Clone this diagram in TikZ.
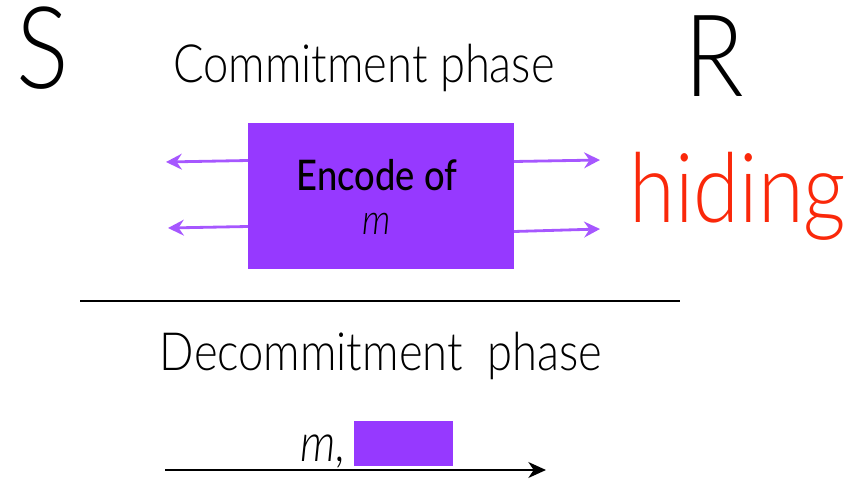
\documentclass[tikz,border=0pt]{standalone}
\usepackage{fontspec}
\setmainfont{Lato}[UprightFont=* Light, ItalicFont=* Light Italic, BoldFont=* Medium, FakeStretch=0.86]
\usetikzlibrary{arrows.meta}
\definecolor{encpurple}{RGB}{150,57,255}
\definecolor{hidered}{RGB}{250,40,10}
\tikzset{
  purplearrow/.style={draw=encpurple!85!white, line width=1.6pt, -{Stealth[length=9pt,width=9pt,inset=3pt]}},
  blackarrow/.style={draw=black, line width=1.4pt, -{Stealth[length=10pt,width=9pt,inset=3pt]}},
  label/.style={inner sep=0pt, anchor=base},
  party/.style={label, text height=1.42cm, text depth=0pt, font=\fontsize{65}{65}\selectfont},
}
\begin{document}
\begin{tikzpicture}[x=0.02cm, y=-0.02cm]
\useasboundingbox (0,0) rectangle (853,480);
% party names
\node[party] (S) at (43,89) {S};
\node[party] (R) at (714,96) {R};
% phase titles
\node[label] (commit) at (364,82) {\fontsize{30}{30}\selectfont Commitment phase};
\node[label] (decommit) at (381,370) {\fontsize{30}{30}\selectfont Decommitment\ \ phase};
% the encoding box
\node[fill=encpurple, minimum width=266*0.02cm, minimum height=146*0.02cm, inner sep=0pt, anchor=north west] (enc) at (248,123) {};
\node[label] (enctxt) at (377,190) {\fontsize{24}{24}\selectfont\bfseries Encode of};
\node[label] (encm) at (377,234) {\fontsize{24}{24}\selectfont\itshape m};
% messages leaving the box
\coordinate (l1) at (166,162);
\coordinate (l2) at (168,228);
\coordinate (r1) at (600,160);
\coordinate (r2) at (600,229);
\draw[purplearrow] (248,160.5) -- (l1);
\draw[purplearrow] (248,226.5) -- (l2);
\draw[purplearrow] (514,161.5) -- (r1);
\draw[purplearrow] (514,231.5) -- (r2);
% hiding property
\node[label, text=hidered] (hiding) at (738,222) {\fontsize{55}{55}\selectfont hiding};
% separator
\coordinate (sepL) at (80,301);
\coordinate (sepR) at (680,301);
\draw[line width=1.5pt] (sepL) -- (sepR);
% decommitment message
\node[label, anchor=base east] (mtxt) at (346,461) {\fontsize{30}{30}\selectfont\itshape m,};
\node[fill=encpurple, minimum width=99*0.02cm, minimum height=45*0.02cm, inner sep=0pt, anchor=north west] (key) at (354,421) {};
\coordinate (dL) at (165,470);
\coordinate (dR) at (546,470);
\draw[blackarrow] (dL) -- (dR);
\end{tikzpicture}
\end{document}
